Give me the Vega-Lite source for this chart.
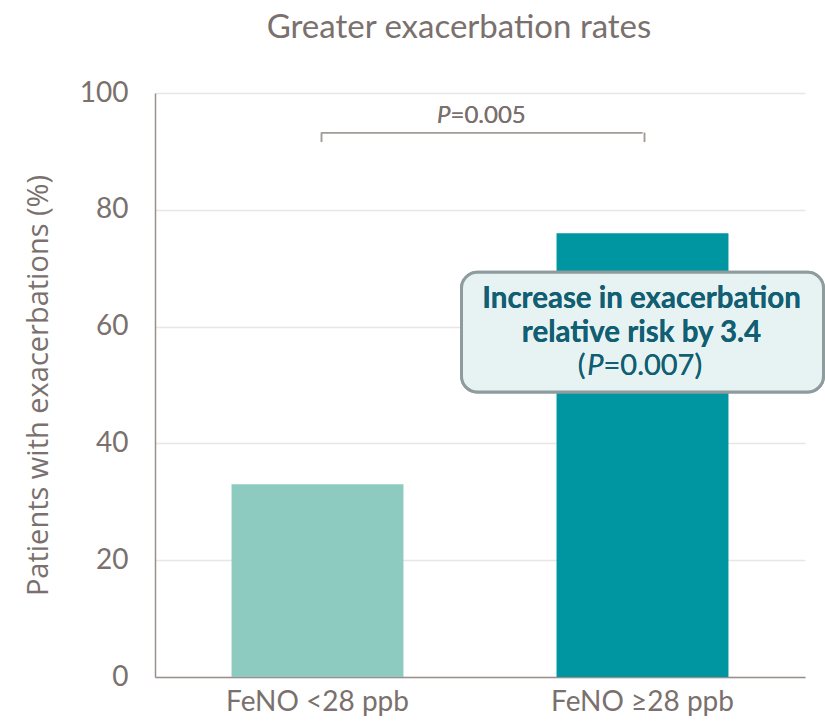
{
  "$schema": "https://vega.github.io/schema/vega-lite/v6.json",
  "width": 650,
  "height": 584,
  "autosize": {"type": "none"},
  "padding": {"left": 155, "top": 93, "right": 20, "bottom": 48},
  "background": "white",
  "title": {
    "text": "Greater exacerbation rates",
    "font": "Lato",
    "fontSize": 33,
    "fontWeight": "normal",
    "color": "#7A706D",
    "anchor": "middle",
    "dx": -21,
    "offset": 34
  },
  "config": {
    "view": {"stroke": null},
    "axis": {"domainColor": "#9A8F8B", "domainWidth": 1.5, "ticks": false}
  },
  "data": {
    "values": [
      {"group": "FeNO <28 ppb", "pct": 33},
      {"group": "FeNO ≥28 ppb", "pct": 76}
    ]
  },
  "encoding": {
    "x": {
      "field": "group",
      "type": "nominal",
      "sort": null,
      "scale": {"paddingInner": 0.471, "paddingOuter": 0.2355},
      "axis": {
        "title": null,
        "labelAngle": 0,
        "labelFont": "Lato",
        "labelFontSize": 28,
        "labelColor": "#7A706D",
        "labelPadding": 11,
        "labelLimit": 0,
        "grid": false
      }
    }
  },
  "layer": [
    {
      "mark": {"type": "bar"},
      "encoding": {
        "y": {
          "field": "pct",
          "type": "quantitative",
          "scale": {"domain": [0, 100]},
          "axis": {
            "title": "Patients with exacerbations (%)",
            "titleFont": "Open Sans",
            "titleFontSize": 29,
            "titleFontWeight": "normal",
            "titleColor": "#7A706D",
            "titlePadding": 26,
            "titleLimit": 0,
            "values": [0, 20, 40, 60, 80, 100],
            "labelFont": "Lato",
            "labelFontSize": 28,
            "labelColor": "#7A706D",
            "labelPadding": 27,
            "gridColor": "#E9E5E3",
            "gridWidth": 1.5
          }
        },
        "color": {
          "field": "group",
          "type": "nominal",
          "scale": {"range": ["#8DCBC1", "#0096A1"]},
          "legend": null
        }
      }
    },
    {
      "mark": {"type": "rule", "color": "#A39A97", "strokeWidth": 1.5, "xOffset": 4},
      "encoding": {
        "x": {"datum": "FeNO <28 ppb"},
        "x2": {"datum": "FeNO ≥28 ppb"},
        "y": {"datum": 93.2}
      }
    },
    {
      "mark": {"type": "rule", "color": "#A39A97", "strokeWidth": 1.5, "xOffset": 4},
      "encoding": {
        "x": {"datum": "FeNO <28 ppb"},
        "y": {"datum": 93.2},
        "y2": {"datum": 91.6}
      }
    },
    {
      "mark": {"type": "rule", "color": "#A39A97", "strokeWidth": 1.5, "xOffset": 2},
      "encoding": {
        "x": {"datum": "FeNO ≥28 ppb"},
        "y": {"datum": 93.2},
        "y2": {"datum": 91.6}
      }
    },
    {
      "mark": {"type": "text", "font": "Lato", "fontSize": 24, "fontStyle": "italic", "color": "#7A706D", "align": "right", "baseline": "alphabetic", "dx": 133},
      "encoding": {"x": {"datum": "FeNO <28 ppb"}, "y": {"datum": 94.8}, "text": {"value": "P"}}
    },
    {
      "mark": {"type": "text", "font": "Lato", "fontSize": 24, "color": "#7A706D", "align": "left", "baseline": "alphabetic", "dx": 133},
      "encoding": {"x": {"datum": "FeNO <28 ppb"}, "y": {"datum": 94.8}, "text": {"value": "=0.005"}}
    },
    {
      "mark": {"type": "bar", "width": 362, "cornerRadius": 16, "color": "#000000", "opacity": 0.07, "xOffset": 2, "yOffset": 7},
      "encoding": {"x": {"datum": "FeNO ≥28 ppb"}, "y": {"datum": 69.3}, "y2": {"datum": 48.8}}
    },
    {
      "mark": {"type": "bar", "width": 362, "cornerRadius": 16, "color": "#000000", "opacity": 0.08, "xOffset": 1, "yOffset": 4},
      "encoding": {"x": {"datum": "FeNO ≥28 ppb"}, "y": {"datum": 69.3}, "y2": {"datum": 48.8}}
    },
    {
      "mark": {"type": "bar", "width": 362, "cornerRadius": 16, "fill": "#E7F3F2", "stroke": "#8E9C9E", "strokeWidth": 3},
      "encoding": {"x": {"datum": "FeNO ≥28 ppb"}, "y": {"datum": 69.3}, "y2": {"datum": 48.8}}
    },
    {
      "mark": {"type": "text", "font": "Lato", "fontSize": 29.5, "fontWeight": "bold", "color": "#125E73", "align": "center", "baseline": "alphabetic", "dx": -1},
      "encoding": {"x": {"datum": "FeNO ≥28 ppb"}, "y": {"datum": 63.2}, "text": {"value": "Increase in exacerbation"}}
    },
    {
      "mark": {"type": "text", "font": "Lato", "fontSize": 29.5, "fontWeight": "bold", "color": "#125E73", "align": "center", "baseline": "alphabetic", "dx": -1},
      "encoding": {"x": {"datum": "FeNO ≥28 ppb"}, "y": {"datum": 57.4}, "text": {"value": "relative risk by 3.4"}}
    },
    {
      "mark": {"type": "text", "font": "Lato", "fontSize": 29, "color": "#125E73", "align": "right", "baseline": "alphabetic", "dx": -57},
      "encoding": {"x": {"datum": "FeNO ≥28 ppb"}, "y": {"datum": 51.7}, "text": {"value": "("}}
    },
    {
      "mark": {"type": "text", "font": "Lato", "fontSize": 29, "fontStyle": "italic", "color": "#125E73", "align": "right", "baseline": "alphabetic", "dx": -39},
      "encoding": {"x": {"datum": "FeNO ≥28 ppb"}, "y": {"datum": 51.7}, "text": {"value": "P"}}
    },
    {
      "mark": {"type": "text", "font": "Lato", "fontSize": 29, "color": "#125E73", "align": "left", "baseline": "alphabetic", "dx": -39},
      "encoding": {"x": {"datum": "FeNO ≥28 ppb"}, "y": {"datum": 51.7}, "text": {"value": "=0.007)"}}
    }
  ]
}
